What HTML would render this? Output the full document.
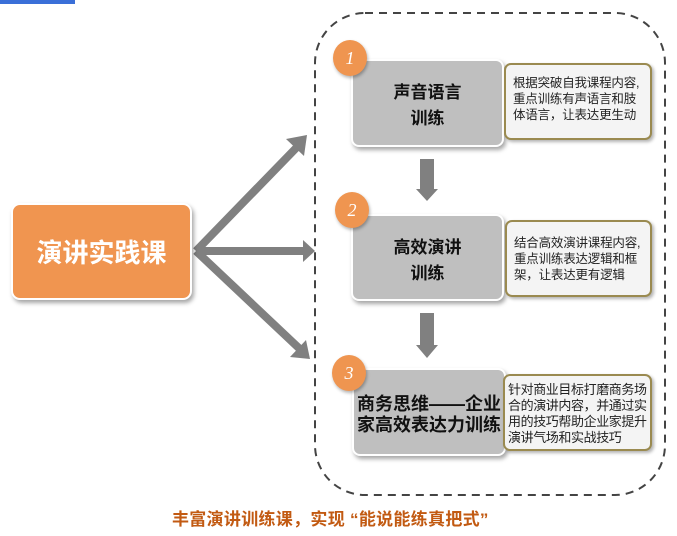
<!DOCTYPE html>
<html><head><meta charset="utf-8"><style>
body{margin:0;width:677px;height:536px;background:#fff;position:relative;overflow:hidden;font-family:"Liberation Sans","Noto Sans CJK SC",sans-serif}
.a{position:absolute}
.gray{background:#bfbfbf;border:2px solid #fff;border-radius:8px;box-shadow:2px 3px 4px rgba(0,0,0,.35);display:flex;align-items:center;justify-content:center;text-align:center;font-weight:bold;color:#111;font-size:17px;line-height:26px;box-sizing:border-box}
.desc{background:#f4f4f4;border:2px solid #9a8a50;border-radius:7px;box-shadow:2px 2px 3px rgba(0,0,0,.3);font-size:12.5px;line-height:16px;color:#222;box-sizing:border-box;padding:10px 0 4px 7px;white-space:nowrap;letter-spacing:-0.2px}
.c{width:34px;height:36px;border-radius:50%;background:#ef9550;color:#fff;font-family:"Liberation Serif",serif;font-style:italic;font-size:18px;display:flex;align-items:center;justify-content:center;box-shadow:1px 2px 3px rgba(0,0,0,.3)}
</style></head><body>
<div class="a" style="left:0;top:0;width:75px;height:4px;background:#3a6fd8"></div>
<svg class="a" style="left:0;top:0" width="677" height="536">
<rect x="315" y="13" width="350" height="482" rx="50" fill="none" stroke="#444" stroke-width="2" stroke-dasharray="8,6"/>
<g stroke="#808080" stroke-width="8" fill="none">
<line x1="196" y1="251" x2="300" y2="144"/>
<line x1="196" y1="251" x2="304" y2="251"/>
<line x1="196" y1="251" x2="302" y2="351"/>
</g>
<g fill="#808080">
<polygon points="307,135 304,156 286,139"/>
<polygon points="315,251 303,240 303,262"/>
<polygon points="310,359 290,357 306,340"/>
<rect x="420" y="159" width="14" height="30"/><polygon points="416,189 438,189 427,201"/>
<rect x="420" y="313" width="14" height="32"/><polygon points="416,345 438,345 427,358"/>
</g>
</svg>
<div class="a" style="left:11px;top:203px;width:181px;height:97px;background:#f09550;border:2px solid #fff;border-radius:9px;box-shadow:2px 3px 4px rgba(0,0,0,.35);box-sizing:border-box;display:flex;align-items:center;justify-content:center;color:#fff;font-weight:bold;font-size:26px">演讲实践课</div>
<div class="a gray" style="left:351px;top:59px;width:153px;height:88px;padding-top:6px">声音语言<br>训练</div>
<div class="a gray" style="left:351px;top:214px;width:153px;height:87px;padding-top:6px">高效演讲<br>训练</div>
<div class="a gray" style="left:352px;top:368px;width:154px;height:88px;font-size:18px;line-height:21px;padding-top:6px;white-space:nowrap">商务思维——企业<br>家高效表达力训练</div>
<div class="a desc" style="left:504px;top:63px;width:148px;height:77px">根据突破自我课程内容,<br>重点训练有声语言和肢<br>体语言，让表达更生动</div>
<div class="a desc" style="left:505px;top:220px;width:147px;height:77px;padding-top:13px">结合高效演讲课程内容,<br>重点训练表达逻辑和框<br>架，让表达更有逻辑</div>
<div class="a desc" style="left:503px;top:374px;width:149px;height:77px;padding:6px 0 2px 3px;font-size:13px;letter-spacing:-0.4px">针对商业目标打磨商务场<br>合的演讲内容，并通过实<br>用的技巧帮助企业家提升<br>演讲气场和实战技巧</div>
<div class="a c" style="left:333px;top:40px">1</div>
<div class="a c" style="left:335px;top:192px">2</div>
<div class="a c" style="left:332px;top:355px">3</div>
<div class="a" style="left:172px;top:505px;color:#c25a12;font-weight:bold;font-size:17px;letter-spacing:0.3px;white-space:nowrap">丰富演讲训练课，实现 “能说能练真把式”</div>
</body></html>
